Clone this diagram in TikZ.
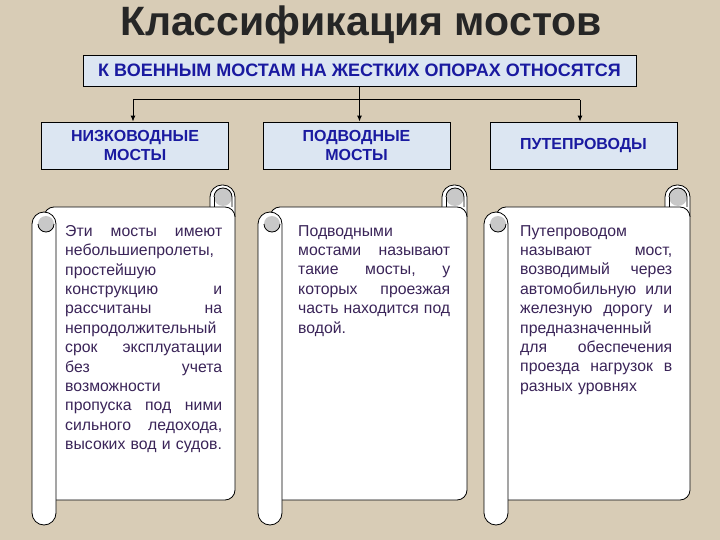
\documentclass[tikz,border=0pt]{standalone}
\usepackage{fontspec}
\setmainfont{Liberation Sans}
\definecolor{bg}{HTML}{D8CCB6}
\definecolor{boxfill}{HTML}{DCE6F2}
\definecolor{hdrtxt}{HTML}{1A1AA0}
\definecolor{bodytxt}{HTML}{3A2458}
\definecolor{curl}{HTML}{C8C8C8}
\tikzset{
 hdrbox/.style={draw=black,line width=0.8pt,fill=boxfill,minimum height=31pt,minimum width=553pt,inner sep=0pt},
 catbox/.style={draw=black,line width=0.8pt,fill=boxfill,minimum height=47pt,minimum width=187pt,align=center,font=\bfseries\fontsize{16}{19}\selectfont,text=hdrtxt,inner sep=0pt},
 link/.style={line width=1pt,-{Latex[length=6pt,width=5pt]}},
 paper/.style={draw=black,line width=0.8pt,fill=white},
 scrolltext/.style={anchor=north west,align=left,text width=156pt,inner sep=0pt,text=bodytxt,font=\fontsize{15.8}{19.4}\selectfont}
}
\usetikzlibrary{arrows.meta}
\newlength{\jw}
\newcommand{\jl}[1]{\makebox[\jw][s]{#1}}
\newcommand{\myscroll}[4]{%
 \draw[paper,rounded corners=12pt] (#2-25,#3+10) -- (#2-25,#3-22) -- (#2,#3-22) -- (#2,#3+10);
 \draw[paper,rounded corners=10pt] (#1+12,#3) -- (#2,#3) -- (#2,#4) -- (#1+12,#4) -- cycle;
 \fill[curl] (#2-12,#3-10) circle (9pt);
 \draw[line width=0.8pt] (#2-21,#3-10) arc (180:0:9pt) -- (#2-3,#3) ;
 \draw[line width=0.8pt] (#2-21,#3-10) -- (#2-21,#3);
 \draw[paper,rounded corners=12pt] (#1,#3+5) -- (#1+24,#3+5) -- (#1+24,#4+25) -- (#1,#4+25) -- cycle;
 \fill[curl] (#1+14,#3+17) circle (8pt);
 \draw[line width=0.8pt] (#1+6,#3+17) arc (180:360:8pt);
}
\begin{document}
\begin{tikzpicture}[x=1pt,y=-1pt]
\fill[bg] (0,0) rectangle (720,540);
\useasboundingbox (0,0) rectangle (720,540);
\node (title) [text=black!85,font=\bfseries\fontsize{41}{46}\selectfont] at (361,25) {Классификация мостов};
\node (hdr) [hdrbox,font=\bfseries\fontsize{18}{20}\selectfont,text=hdrtxt] at (359.5,70.5) {К ВОЕННЫМ МОСТАМ НА ЖЕСТКИХ ОПОРАХ ОТНОСЯТСЯ};
\node (b1) [catbox] at (135,145.5) {НИЗКОВОДНЫЕ\\МОСТЫ};
\node (b2) [catbox] at (356.5,145.5) {ПОДВОДНЫЕ\\МОСТЫ};
\node (b3) [catbox] at (583.5,145.5) {ПУТЕПРОВОДЫ};
\coordinate (j) at (359.5,100);
\draw[line width=1pt] (hdr.south) -- (j);
\draw[line width=1pt] (j) -- (133,100);
\draw[link] (133,100) -- (b1.north -| 133,0);
\draw[link] (j) -- (b2.north -| j);
\draw[line width=1pt] (j) -- (580,100);
\draw[link] (580,100) -- (b3.north -| 580,0);
\myscroll{32}{235}{207}{500}
\myscroll{258}{467}{207}{500}
\myscroll{484}{690}{207}{500}
\setlength{\jw}{157pt}
\node (t1) [scrolltext,text width=157pt] at (65,225) {\jl{Эти\hfill мосты\hfill имеют}\\небольшиепролеты,\\простейшую\\\jl{конструкцию\hfill и}\\\jl{рассчитаны\hfill на}\\\jl{непродолжительный}\\\jl{срок\hfill эксплуатации}\\\jl{без\hfill учета}\\возможности\\\jl{пропуска\hfill под\hfill ними}\\\jl{сильного\hfill ледохода,}\\высоких вод и судов.};
\setlength{\jw}{152pt}
\node (t2) [scrolltext,text width=152pt] at (298,225) {Подводными\\\jl{мостами\hfill называют}\\\jl{такие\hfill мосты,\hfill у}\\\jl{которых\hfill проезжая}\\\jl{часть\hfill находится\hfill под}\\водой.};
\node (t3) [scrolltext,text width=152pt] at (520,225) {Путепроводом\\\jl{называют\hfill мост,}\\\jl{возводимый\hfill через}\\\jl{автомобильную\hfill или}\\\jl{железную\hfill дорогу\hfill и}\\предназначенный\\\jl{для\hfill обеспечения}\\\jl{проезда\hfill нагрузок\hfill в}\\разных уровнях};
\end{tikzpicture}
\end{document}
